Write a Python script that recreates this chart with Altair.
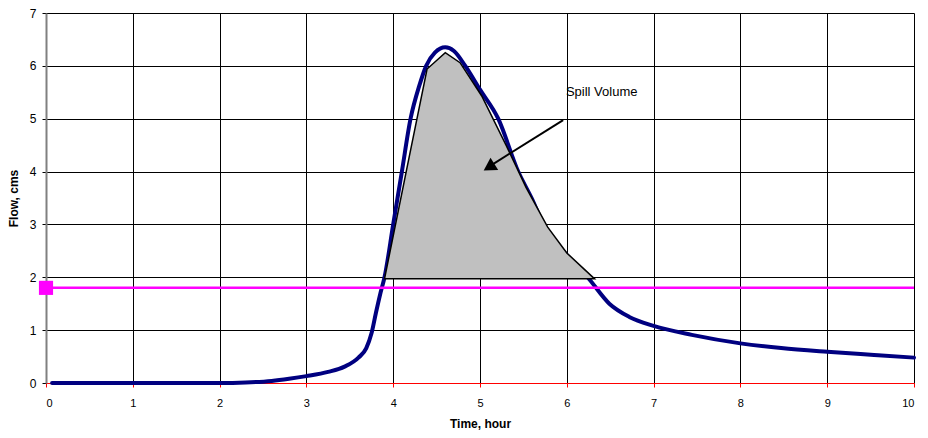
import altair as alt
import pandas as pd

# Hydrograph (time in hours, flow in cms)
curve_t = [0.07, 1.0, 2.0, 2.3, 2.6, 2.8, 3.0, 3.25, 3.44, 3.6, 3.69, 3.75, 3.8, 3.85, 3.9,
           4.0, 4.1, 4.2, 4.3, 4.38, 4.48, 4.6, 4.7, 4.83, 5.0, 5.21, 5.44, 5.6, 5.73, 6.0,
           6.24, 6.49, 6.72, 7.0, 7.44, 8.0, 8.47, 9.0, 9.54, 10.0]
curve_q = [0.0, 0.0, 0.0, 0.01, 0.04, 0.08, 0.13, 0.21, 0.31, 0.48, 0.66, 0.94, 1.32, 1.68, 2.0,
           3.0, 4.0, 5.0, 5.62, 6.0, 6.25, 6.35, 6.28, 6.0, 5.55, 5.0, 4.0, 3.48, 3.0, 2.42,
           2.0, 1.5, 1.25, 1.08, 0.91, 0.75, 0.66, 0.59, 0.53, 0.48]

# Spill volume polygon (top edge), baseline
spill_t = [3.9, 4.15, 4.39, 4.6, 4.77, 5.02, 5.3, 5.53, 5.78, 6.0, 6.32]
spill_q = [1.97, 4.0, 5.94, 6.25, 6.06, 5.43, 4.5, 3.7, 2.95, 2.46, 1.97]
spill_base = 1.97

# Threshold line
thresh_t = [0.0, 10.0]
thresh_q = [1.8, 1.8]

# Annotation
label_text = ["Spill Volume"]
label_t = [5.99]
label_q = [5.5]
arrow_start = [5.958, 4.975]
arrow_end = [5.1, 4.09]
arrow_head = [5.104, 4.083]

x_ticks = list(range(0, 11))
y_ticks = list(range(0, 8))

curve_df = pd.DataFrame({"t": curve_t, "q": curve_q})
spill_df = pd.DataFrame({"t": spill_t, "q": spill_q, "base": [spill_base] * len(spill_t)})
thresh_df = pd.DataFrame({"t": thresh_t, "q": thresh_q})
label_df = pd.DataFrame({"t": label_t, "q": label_q, "text": label_text})
arrow_df = pd.DataFrame({"t": [arrow_start[0]], "q": [arrow_start[1]],
                         "t2": [arrow_end[0]], "q2": [arrow_end[1]]})
head_df = pd.DataFrame({"t": [arrow_head[0]], "q": [arrow_head[1]]})

FONT = "Liberation Sans"
W, H = 868, 370

xscale = alt.Scale(domain=[0, 10], nice=False, zero=False)
yscale = alt.Scale(domain=[0, 7], nice=False)

xaxis = alt.Axis(values=x_ticks, format="d", title="Time, hour",
                 grid=True, gridColor="#000000", gridWidth=1,
                 domainColor="#FF0000", domainWidth=1,
                 tickColor="#FF0000", tickSize=4,
                 labelFont=FONT, labelFontSize=11, labelColor="#000000", labelPadding=10,
                 titleFont=FONT, titleFontSize=12, titleFontWeight="bold", titleColor="#000000",
                 titleX=W / 2, titleY=40, titleBaseline="middle", titleAlign="center")
yaxis = alt.Axis(values=y_ticks, format="d", title="Flow, cms",
                 grid=True, gridColor="#000000", gridWidth=1,
                 domainColor="#808080", domainWidth=2,
                 tickColor="#000000", tickSize=4,
                 labelFont=FONT, labelFontSize=12, labelColor="#000000", labelPadding=6,
                 titleFont=FONT, titleFontSize=12, titleFontWeight="bold", titleColor="#000000",
                 titleX=-33, titleY=H / 2, titleBaseline="middle", titleAlign="center",
                 titleAngle=270)

base_x = alt.X("t:Q", scale=xscale, axis=xaxis)
base_y = alt.Y("q:Q", scale=yscale, axis=yaxis)

curve = alt.Chart(curve_df).mark_line(color="#000080", strokeWidth=4, strokeCap="round",
                                      interpolate="monotone").encode(x=base_x, y=base_y)

spill = alt.Chart(spill_df).mark_area(color="#C0C0C0", fillOpacity=1, stroke="#000000",
                                      strokeWidth=1.5, line=False).encode(
    x=alt.X("t:Q", scale=xscale),
    y=alt.Y("q:Q", scale=yscale),
    y2="base:Q")

thresh = alt.Chart(thresh_df).mark_line(color="#FF00FF", strokeWidth=2.5).encode(
    x=alt.X("t:Q", scale=xscale), y=alt.Y("q:Q", scale=yscale))

marker = alt.Chart(thresh_df.iloc[[0]]).mark_point(shape="square", filled=True, size=200,
                                                   color="#FF00FF", opacity=1).encode(
    x=alt.X("t:Q", scale=xscale), y=alt.Y("q:Q", scale=yscale))

arrow = alt.Chart(arrow_df).mark_rule(color="#000000", strokeWidth=2).encode(
    x=alt.X("t:Q", scale=xscale), y=alt.Y("q:Q", scale=yscale), x2="t2:Q", y2="q2:Q")

head = alt.Chart(head_df).mark_point(shape="triangle-up", filled=True, size=210, angle=238,
                                     color="#000000", opacity=1).encode(
    x=alt.X("t:Q", scale=xscale), y=alt.Y("q:Q", scale=yscale))

label = alt.Chart(label_df).mark_text(align="left", baseline="middle", font=FONT,
                                      fontSize=13, color="#000000").encode(
    x=alt.X("t:Q", scale=xscale), y=alt.Y("q:Q", scale=yscale), text="text:N")

chart = alt.layer(curve, spill, thresh, marker, arrow, head, label).properties(
    width=W, height=H,
    autosize=alt.AutoSizeParams(type="none"),
    padding={"left": 38, "top": 5, "right": 6, "bottom": 47},
    background="#FFFFFF",
).configure_view(strokeWidth=0)

chart.save("out.html", embed_options={"renderer": "svg", "actions": False})
